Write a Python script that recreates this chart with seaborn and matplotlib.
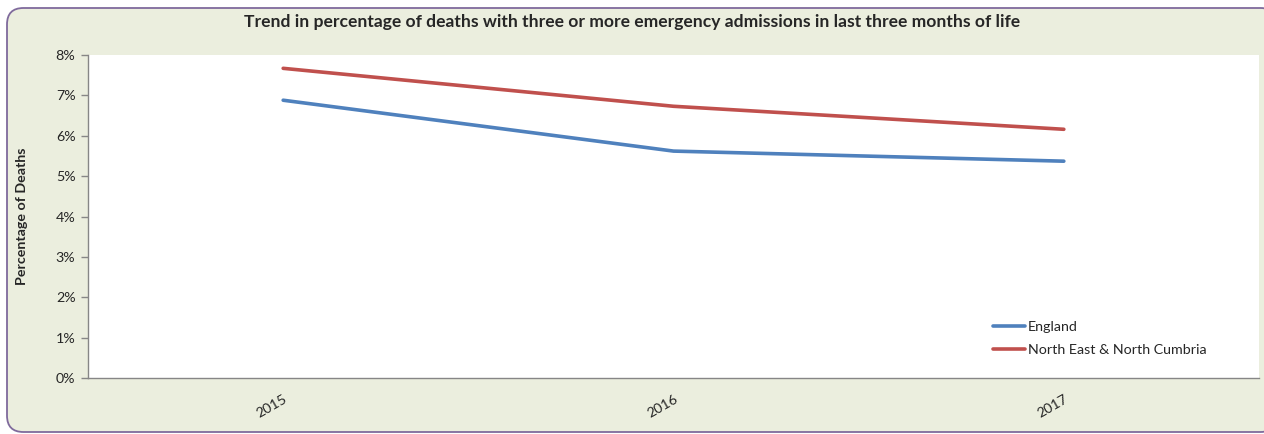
import matplotlib
matplotlib.use("Agg")
import matplotlib.pyplot as plt
from matplotlib.patches import FancyBboxPatch
from matplotlib.ticker import PercentFormatter
import seaborn as sns
import pandas as pd

years = ["2015", "2016", "2017"]
england = [6.88, 5.62, 5.37]
ne_cumbria = [7.67, 6.73, 6.16]
series_names = ["England", "North East & North Cumbria"]

df = pd.DataFrame({
    "Year": years * 2,
    "Percent": england + ne_cumbria,
    "Area": [series_names[0]] * 3 + [series_names[1]] * 3,
})

sns.set_theme(style="white")
plt.rcParams["font.family"] = ["Lato", "DejaVu Sans"]

bg = "#EBEEDE"
fig = plt.figure(figsize=(12.64, 4.34), dpi=100)
fig.patch.set_facecolor("white")

# rounded chart frame, kept behind the axes
frame = FancyBboxPatch((7 / 1264, 2 / 434), 1270 / 1264, 424 / 434,
                       boxstyle="round,pad=0,rounding_size=0.013",
                       transform=fig.transFigure, facecolor=bg,
                       edgecolor="#7F6A9C", linewidth=1.3,
                       mutation_aspect=1264 / 434, zorder=-10)
fig.patches.append(frame)

ax = fig.add_axes([88 / 1264, 1 - 378 / 434, (1259 - 88) / 1264, (378 - 55) / 434])
ax.set_zorder(1)
ax.set_facecolor("white")

sns.lineplot(data=df, x="Year", y="Percent", hue="Area",
             palette=["#4F81BD", "#C0504D"], linewidth=2.6, ax=ax,
             sort=False)

ax.set_xlim(-0.5, 2.5)
ax.set_ylim(0, 8)
ax.set_yticks(range(0, 9))
ax.yaxis.set_major_formatter(PercentFormatter(decimals=0))
ax.tick_params(axis="y", which="major", left=True, length=5, width=1,
               color="#868686", labelsize=10.3, pad=4)
ax.tick_params(axis="x", bottom=False, labelsize=10.3, pad=5)
for lab in ax.get_xticklabels():
    lab.set_rotation(30)
    lab.set_ha("right")
    lab.set_rotation_mode("anchor")

for side in ["top", "right"]:
    ax.spines[side].set_visible(False)
for side in ["left", "bottom"]:
    ax.spines[side].set_color("#868686")
    ax.spines[side].set_linewidth(1)

ax.set_xlabel("")
ax.set_ylabel("Percentage of Deaths", fontsize=10.3, fontweight="bold",
              labelpad=20)

leg = ax.legend(loc="upper left", bbox_to_anchor=((993 - 88) / 1171, (378 - 321) / 323),
                frameon=False, fontsize=10.3, handlelength=2.25,
                handletextpad=0.2, labelspacing=0.75, borderpad=0,
                borderaxespad=0, title=None)

fig.text(0.5, 1 - 22 / 434,
         "Trend in percentage of deaths with three or more emergency admissions in last three months of life",
         ha="center", va="center", fontsize=12.6, fontweight="bold")

fig.savefig("out.png", dpi=100, facecolor=fig.get_facecolor())
